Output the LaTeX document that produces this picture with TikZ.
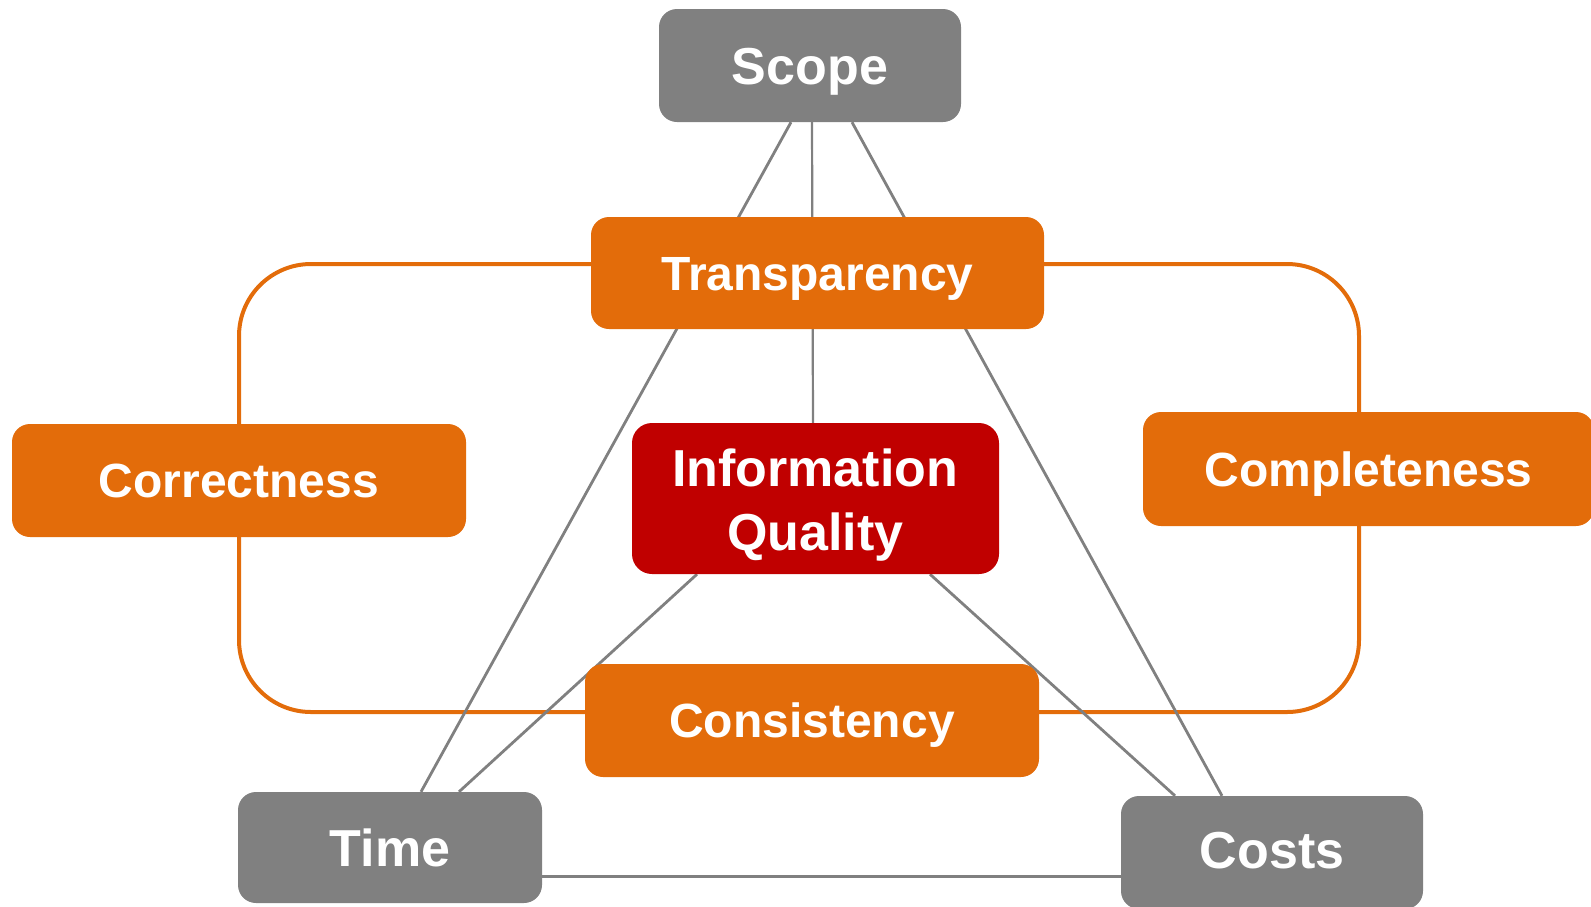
\documentclass[tikz,border=0pt]{standalone}
\usepackage{fontspec}
\setmainfont{Liberation Sans}
\usetikzlibrary{calc,backgrounds}
\definecolor{orng}{HTML}{E36C0A}
\definecolor{dred}{HTML}{C00000}
\definecolor{gry}{HTML}{808080}
\tikzset{
  basebox/.style={rectangle, rounded corners=18pt, inner sep=0pt, text=white, text depth=0pt},
  graybox/.style={basebox, fill=gry, font=\bfseries\fontsize{52}{62}\selectfont, text height=37.2pt, minimum width=302pt, minimum height=113pt},
  orangebox/.style={basebox, fill=orng, font=\bfseries\fontsize{48}{58}\selectfont, text height=34.4pt, minimum height=113pt},
  redbox/.style={basebox, fill=dred, rounded corners=20pt},
  redtxt/.style={inner sep=0pt, text=white, font=\bfseries\fontsize{52}{62}\selectfont},
  gline/.style={draw=gry, line width=2.8pt},
  oline/.style={draw=orng, line width=4pt}
}
\begin{document}
\begin{tikzpicture}[x=1pt,y=-1pt]
\useasboundingbox (0,0) rectangle (1591,906);
\node[graybox] (scope) at (810,65.5) {Scope};
\node[orangebox, minimum width=453pt, minimum height=112pt] (trans) at (817.5,273) {Transparency};
\node[orangebox, minimum width=454pt] (corr) at (239,480.5) {Correctness};
\node[orangebox, minimum width=451pt, minimum height=114pt] (comp) at (1368.5,469) {Completeness};
\node[redbox, minimum width=367pt, minimum height=151pt] (iq) at (815.5,498.5) {};
\node[redtxt, anchor=base] (iqt1) at (815,486) {Information};
\node[redtxt, anchor=base] (iqt2) at (815.5,550) {Quality};
\node[orangebox, minimum width=454pt] (cons) at (812,720.5) {Consistency};
\node[graybox, minimum width=304pt, minimum height=111pt] (time) at (390,847.5) {Time};
\node[graybox, text depth=6pt] (costs) at (1272,852.5) {Costs};
\begin{pgfonlayer}{background}
% loop behind the orange boxes
\draw[oline, rounded corners=72pt] (239,264) rectangle (1359,712);
% gray connectors
\draw[gline] ($(scope.south)+(-19,0)$) -- ($(time.north)+(31,0)$);
\draw[gline] ($(scope.south)+(42,0)$) -- ($(costs.north)+(-50,0)$);
\draw[gline, line width=2.2pt] ($(scope.south)+(2,0)$) -- ($(iq.north)+(-2.5,0)$);
\draw[gline] ($(iq.south)+(-118.5,0)$) -- ($(time.north)+(69,0)$);
\draw[gline] ($(iq.south)+(114.5,0)$) -- ($(costs.north)+(-97,0)$);
\draw[gline] ($(time.east)+(0,29)$) -- ($(costs.west)+(0,24)$);
\end{pgfonlayer}
\end{tikzpicture}
\end{document}
